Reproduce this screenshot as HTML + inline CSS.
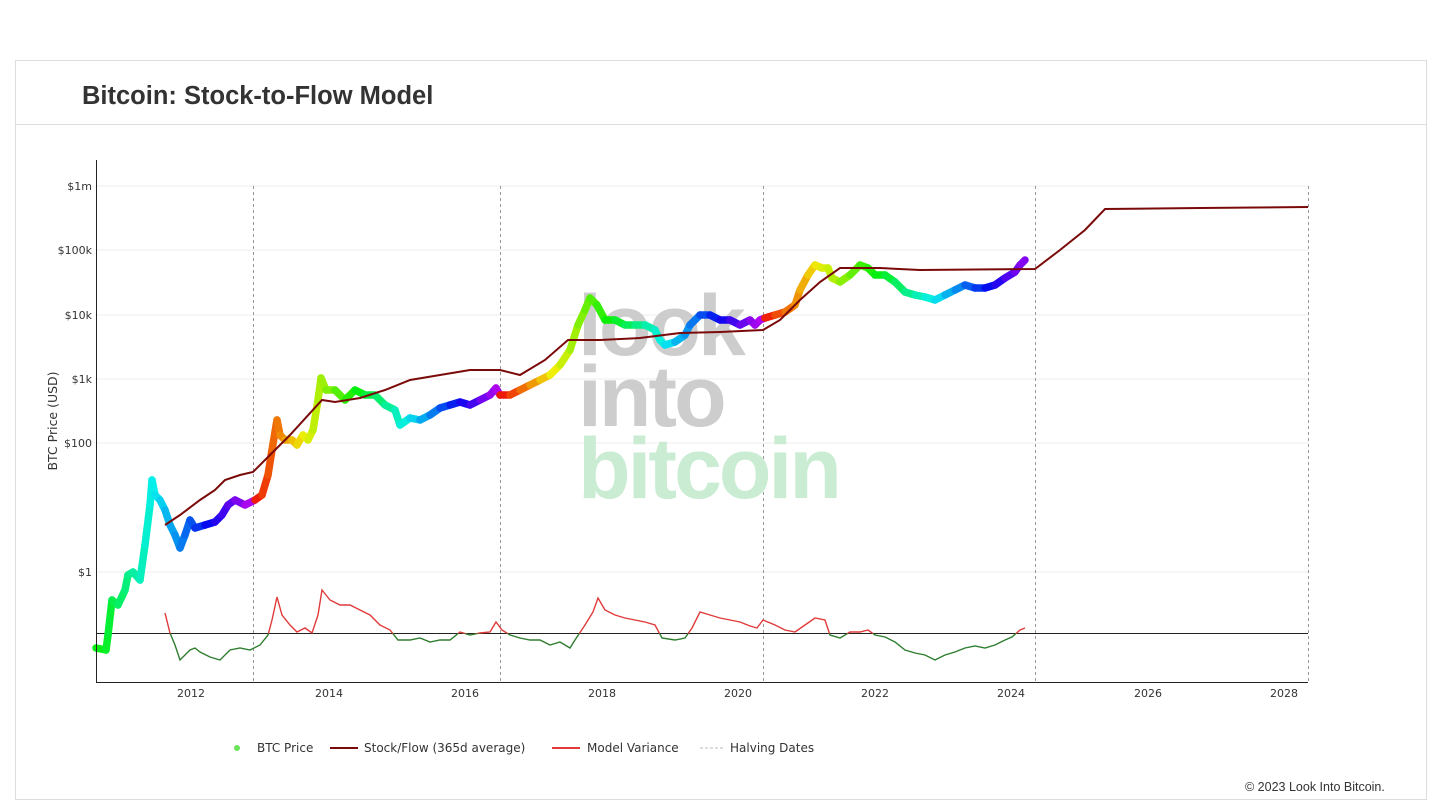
<!DOCTYPE html>
<html><head><meta charset="utf-8"><style>
body{margin:0;background:#fff;width:1443px;height:805px;overflow:hidden;font-family:"Liberation Sans",sans-serif}
</style></head><body>
<svg id="s" width="1443" height="805" xmlns="http://www.w3.org/2000/svg" font-family="Liberation Sans, sans-serif">
<rect x="15.5" y="60.5" width="1411" height="739" fill="#fff" stroke="#ddd"/>
<line x1="16" y1="124.5" x2="1426" y2="124.5" stroke="#ddd"/>
<text x="82" y="104" font-size="25.5" font-weight="bold" fill="#333">Bitcoin: Stock-to-Flow Model</text>
<g stroke="#eee" stroke-width="1">
<line x1="96" y1="186" x2="1308" y2="186"/><line x1="96" y1="250" x2="1308" y2="250"/>
<line x1="96" y1="315" x2="1308" y2="315"/><line x1="96" y1="379" x2="1308" y2="379"/>
<line x1="96" y1="443" x2="1308" y2="443"/><line x1="96" y1="572" x2="1308" y2="572"/>
</g>
<g font-size="11" fill="#333" text-anchor="end" font-family="DejaVu Sans, sans-serif">
<text x="92" y="190">$1m</text><text x="92" y="254">$100k</text><text x="92" y="319">$10k</text>
<text x="92" y="383">$1k</text><text x="92" y="447">$100</text><text x="92" y="576">$1</text>
</g>
<text transform="translate(57,421) rotate(-90)" font-size="12.5" fill="#333" text-anchor="middle" font-family="DejaVu Sans, sans-serif">BTC Price (USD)</text>
<g font-size="11" fill="#333" text-anchor="middle" font-family="DejaVu Sans, sans-serif">
<text x="191" y="697">2012</text><text x="329" y="697">2014</text><text x="465" y="697">2016</text>
<text x="602" y="697">2018</text><text x="738" y="697">2020</text><text x="875" y="697">2022</text>
<text x="1011" y="697">2024</text><text x="1148" y="697">2026</text><text x="1284" y="697">2028</text>
</g>
<g stroke="#999" stroke-dasharray="3,3" stroke-width="1">
<line x1="253.5" y1="186" x2="253.5" y2="682"/><line x1="500.5" y1="186" x2="500.5" y2="682"/>
<line x1="763.5" y1="186" x2="763.5" y2="682"/><line x1="1035.5" y1="186" x2="1035.5" y2="682"/>
<line x1="1308.5" y1="186" x2="1308.5" y2="682"/>
</g>
<g font-weight="bold" font-size="86" letter-spacing="-3">
<text x="578" y="355" fill="#c8c8c8" opacity="0.9">look</text>
<text x="578" y="426" fill="#c8c8c8" opacity="0.9">into</text>
<text x="578" y="498" fill="#c9ecd3">bitcoin</text>
</g>
<line x1="96" y1="633.5" x2="1308" y2="633.5" stroke="#222" stroke-width="1"/>
<defs>
<clipPath id="up"><rect x="0" y="0" width="1443" height="633.5"/></clipPath>
<clipPath id="dn"><rect x="0" y="633.5" width="1443" height="200"/></clipPath>
</defs>
<g id="price"></g>
<polyline id="s2f" fill="none" stroke="#7a0a0a" stroke-width="2"/>
<polyline id="v1" fill="none" stroke="#e03a3a" stroke-width="1.4" clip-path="url(#up)"/>
<polyline id="v2" fill="none" stroke="#2e7d2e" stroke-width="1.4" clip-path="url(#dn)"/>
<line x1="96.5" y1="160" x2="96.5" y2="682" stroke="#222"/>
<line x1="96" y1="682.5" x2="1308" y2="682.5" stroke="#222"/>
<circle cx="237" cy="748" r="3" fill="#6be35a"/>
<g font-size="12" fill="#333" font-family="DejaVu Sans, sans-serif">
<text x="257" y="752">BTC Price</text>
<line x1="330" y1="748" x2="358" y2="748" stroke="#7a0a0a" stroke-width="2"/>
<text x="364" y="752">Stock/Flow (365d average)</text>
<line x1="552" y1="748" x2="580" y2="748" stroke="#e03a3a" stroke-width="2"/>
<text x="587" y="752">Model Variance</text>
<line x1="700" y1="748" x2="723" y2="748" stroke="#bbb" stroke-dasharray="3,2"/>
<text x="730" y="752">Halving Dates</text>
</g>
<text x="1245" y="791" font-size="12.5" fill="#333">© 2023 Look Into Bitcoin.</text>
</svg>
<script>
var P=[96,648,106,650,108,635,112,600,118,605,125,590,128,575,133,572,140,580,145,545,150,505,152,480,155,495,160,500,165,510,170,525,175,535,180,548,185,535,190,520,195,528,205,525,215,522,222,515,228,505,235,500,245,505,255,500,262,495,268,475,272,450,277,420,280,435,285,440,292,440,297,445,303,435,308,440,313,430,318,400,321,378,326,390,335,390,345,400,355,390,365,395,375,395,385,405,395,410,400,425,410,418,420,420,430,415,440,408,450,405,460,402,470,405,480,400,490,395,496,388,500,395,510,395,520,390,530,385,540,380,550,375,560,365,570,350,578,325,585,310,590,298,597,305,605,320,615,320,625,325,635,325,645,325,655,330,660,340,665,345,675,342,685,335,690,325,700,315,710,315,720,320,730,320,740,325,750,320,755,325,760,320,765,318,775,315,785,312,795,305,800,290,808,275,815,265,822,268,828,268,832,278,840,282,850,275,860,265,868,268,875,275,885,275,895,282,905,292,915,295,925,297,935,300,945,295,955,290,965,285,975,288,985,288,995,285,1005,278,1015,272,1020,265,1025,260];
var S=[165,525,180,515,200,500,215,490,225,480,240,475,253,472,270,455,290,435,322,400,335,402,360,398,385,390,410,380,440,375,470,370,500,370,520,375,545,360,568,340,600,340,640,338,680,333,720,332,763,330,780,320,800,300,820,282,840,268,880,268,920,270,1035,269,1060,250,1085,230,1105,209,1200,208,1308,207];
var V=[165,613,170,633,175,645,180,660,185,655,190,650,195,648,200,652,210,657,220,660,230,650,240,648,250,650,260,645,268,635,272,620,277,597,282,615,290,625,297,632,305,628,312,633,318,615,322,590,330,600,340,605,350,605,360,610,370,615,380,625,390,630,398,640,410,640,420,638,430,642,440,640,450,640,460,632,470,635,480,633,490,632,496,622,502,630,510,635,520,638,530,640,540,640,550,645,560,642,570,648,575,640,585,625,593,612,598,598,605,610,615,615,625,618,635,620,645,622,655,625,662,638,675,640,685,638,692,628,700,612,710,615,720,618,730,620,740,622,750,626,757,628,763,620,775,625,785,630,795,632,805,625,815,618,825,620,830,635,840,638,850,632,860,632,868,630,875,635,885,637,895,642,905,650,915,653,925,655,935,660,945,655,955,652,965,648,975,646,985,648,995,645,1005,640,1012,637,1020,630,1025,628];
function pts(a){var s=[];for(var i=0;i<a.length;i+=2)s.push(a[i]+','+a[i+1]);return s.join(' ');}
document.getElementById('s2f').setAttribute('points',pts(S));
document.getElementById('v1').setAttribute('points',pts(V));
document.getElementById('v2').setAttribute('points',pts(V));
var H=[-14,253,500,763,1035];
function hue(x){for(var i=0;i<H.length-1;i++){if(x<H[i+1]){var p=(x-H[i])/(H[i+1]-H[i]);return p*285;}}return 280;}
var g=document.getElementById('price'),h='';
for(var i=0;i<P.length-2;i+=2){var mx=(P[i]+P[i+2])/2;
h+='<line x1="'+P[i]+'" y1="'+P[i+1]+'" x2="'+P[i+2]+'" y2="'+P[i+3]+'" stroke="hsl('+hue(mx).toFixed(0)+',95%,48%)" stroke-width="7.5" stroke-linecap="round"/>';}
g.innerHTML=h;
</script>
</body></html>
